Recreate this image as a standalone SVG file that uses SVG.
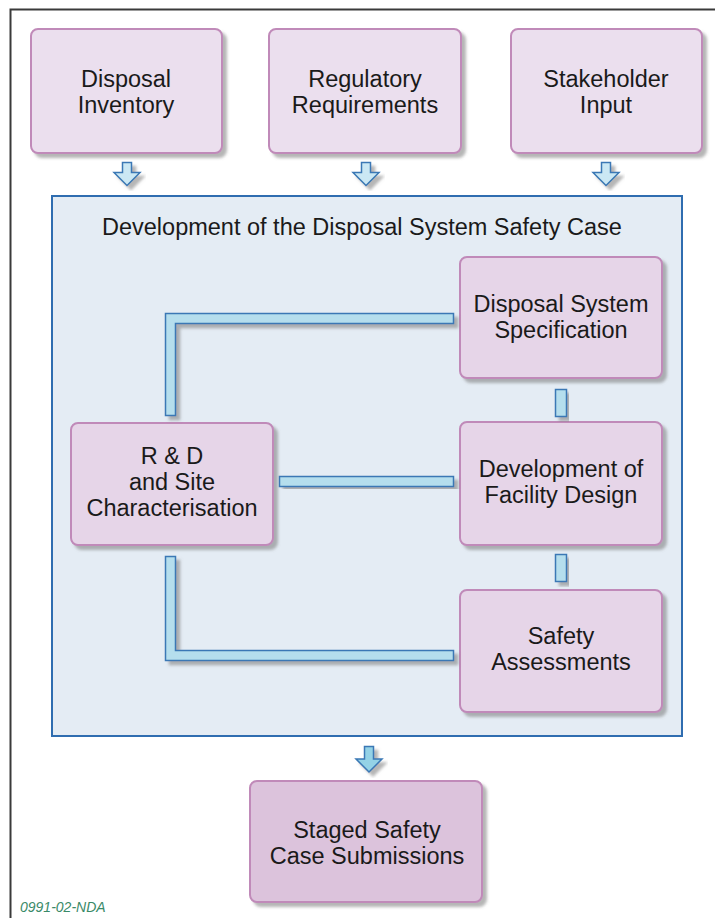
<svg xmlns="http://www.w3.org/2000/svg" width="715" height="918" viewBox="0 0 715 918">
  <defs>
    <filter id="shadow" x="-10%" y="-10%" width="130%" height="130%">
      <feDropShadow dx="4" dy="4" stdDeviation="1.5" flood-color="#7a7a7a" flood-opacity="0.55"/>
    </filter>
    <style>
      .frame { fill: none; stroke: #3a3a3a; stroke-width: 2; }
      .panel { fill: #e4ecf4; stroke: #2f6db0; stroke-width: 2; }
      .box { stroke: #c08ab9; stroke-width: 2; filter: url(#shadow); }
      .box-in { fill: #ebdfee; }
      .box-mid { fill: #e6d5e8; }
      .box-out { fill: #dcc3dc; }
      .pipe { fill: #b5deed; stroke: #3a78b5; stroke-width: 1.5; filter: url(#shadow); }
      .arrow { fill: #cbe8f4; stroke: #3a78b5; stroke-width: 1.5; stroke-linejoin: miter; filter: url(#shadow); }
      .arrow-dark { fill: #94d2e6; }
      text { font-family: "Liberation Sans", Arial, sans-serif; fill: #1a1a1a; }
      .lbl { font-size: 23.5px; text-anchor: middle; }
      .title { font-size: 23.5px; }
      .ref { font-size: 14px; font-style: italic; fill: #3a8a68; }
    </style>
  </defs>

  <rect width="715" height="918" fill="#ffffff"/>

  <!-- page frame: top and left edges -->
  <path class="frame" d="M10.5,918 V9.5 H715"/>

  <!-- safety case development panel -->
  <g id="panel">
    <rect class="panel" x="52" y="196" width="630" height="540"/>
    <text class="title" x="102" y="235">Development of the Disposal System Safety Case</text>
  </g>

  <!-- input nodes -->
  <g id="disposal-inventory">
    <rect class="box box-in" x="31" y="29" width="191" height="124" rx="7"/>
    <text class="lbl" x="126" y="87">Disposal</text>
    <text class="lbl" x="126" y="113">Inventory</text>
  </g>
  <g id="regulatory-requirements">
    <rect class="box box-in" x="269" y="29" width="192" height="124" rx="7"/>
    <text class="lbl" x="365" y="87">Regulatory</text>
    <text class="lbl" x="365" y="113">Requirements</text>
  </g>
  <g id="stakeholder-input">
    <rect class="box box-in" x="511" y="29" width="191" height="124" rx="7"/>
    <text class="lbl" x="606" y="87">Stakeholder</text>
    <text class="lbl" x="606" y="113">Input</text>
  </g>

  <!-- inner process nodes -->
  <g id="system-specification">
    <rect class="box box-mid" x="460" y="257" width="202" height="121" rx="7"/>
    <text class="lbl" x="561" y="312">Disposal System</text>
    <text class="lbl" x="561" y="338">Specification</text>
  </g>
  <g id="facility-design">
    <rect class="box box-mid" x="460" y="422" width="202" height="123" rx="7"/>
    <text class="lbl" x="561" y="477">Development of</text>
    <text class="lbl" x="561" y="503">Facility Design</text>
  </g>
  <g id="safety-assessments">
    <rect class="box box-mid" x="460" y="590" width="202" height="122" rx="7"/>
    <text class="lbl" x="561" y="644">Safety</text>
    <text class="lbl" x="561" y="670">Assessments</text>
  </g>
  <g id="rd-site">
    <rect class="box box-mid" x="71" y="423" width="202" height="122" rx="7"/>
    <text class="lbl" x="172" y="464">R &amp; D</text>
    <text class="lbl" x="172" y="490">and Site</text>
    <text class="lbl" x="172" y="516">Characterisation</text>
  </g>

  <!-- output node -->
  <g id="staged-submissions">
    <rect class="box box-out" x="250" y="781" width="232" height="121" rx="7"/>
    <text class="lbl" x="367" y="838">Staged Safety</text>
    <text class="lbl" x="367" y="864">Case Submissions</text>
  </g>

  <!-- connectors -->
  <g id="connectors">
    <path class="arrow" d="M122.5,162.5 H131.5 V172.5 H140 L127,185.5 L114,172.5 H122.5 Z"/>
    <path class="arrow" d="M361.5,162.5 H370.5 V172.5 H379 L366,185.5 L353,172.5 H361.5 Z"/>
    <path class="arrow" d="M601.5,162.5 H610.5 V172.5 H619 L606,185.5 L593,172.5 H601.5 Z"/>

    <path class="pipe" d="M165.5,415.5 V313.5 H453.5 V323.5 H175.5 V415.5 Z"/>
    <rect class="pipe" x="279.5" y="476.5" width="174" height="10"/>
    <path class="pipe" d="M165.5,556.5 H175.5 V650.5 H453.5 V660.5 H165.5 Z"/>
    <rect class="pipe" x="555.5" y="389.5" width="11" height="27"/>
    <rect class="pipe" x="555.5" y="554.5" width="11" height="27"/>

    <path class="arrow arrow-dark" d="M364.5,746.5 H373.5 V759 H382 L369,772 L356,759 H364.5 Z"/>
  </g>

  <text class="ref" x="20" y="912">0991-02-NDA</text>
</svg>
